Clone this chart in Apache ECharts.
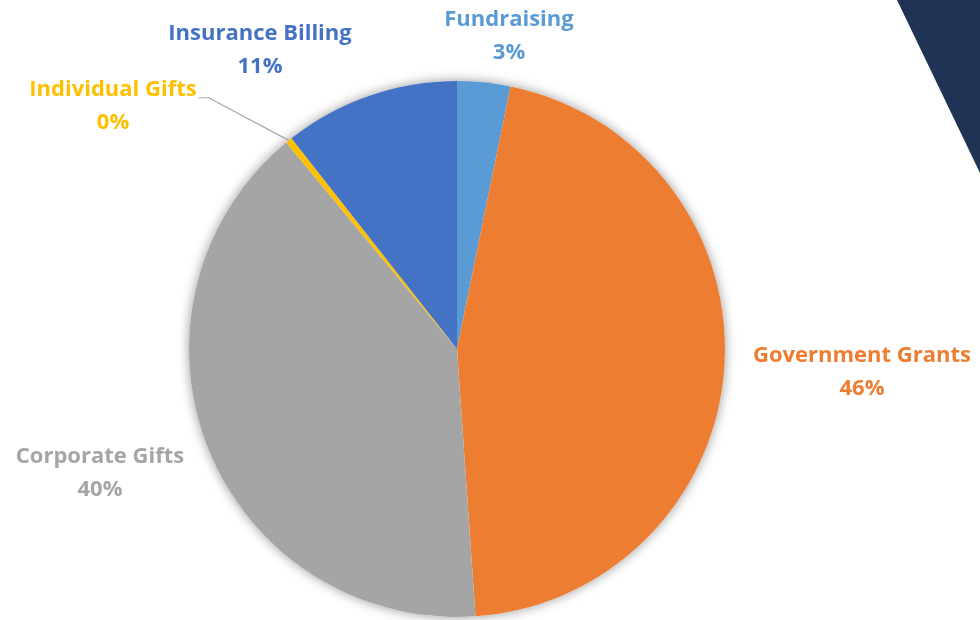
<!DOCTYPE html>
<html><head><meta charset="utf-8">
<script src="https://cdn.jsdelivr.net/npm/echarts@6/dist/echarts.min.js"></script>
<style>html,body{margin:0;padding:0;background:#fff}#c{width:980px;height:620px}</style>
</head><body><div id="c"></div>
<script>
const categories = ['Fundraising', 'Government Grants', 'Corporate Gifts', 'Individual Gifts', 'Insurance Billing'];
const values = [3.2, 45.7, 40.1, 0.4, 10.6];

const chart = echarts.init(document.getElementById('c'));
const sliceColors = ['#5B9BD5', '#ED7D31', '#A5A5A5', '#FFC000', '#4472C4'];
const labelCenters = [[509, 36], [862, 372], [100, 473], [113, 106], [260, 50]];
const LH = 33;

chart.setOption({
  backgroundColor: '#fff',
  animation: false,
  graphic: [{
    type: 'polygon',
    shape: { points: [[897, 0], [980, 0], [980, 173]] },
    style: { fill: '#1f3354' },
    z: 100
  }],
  series: [
    {
      type: 'pie', center: [457, 349], radius: 268, silent: true,
      label: { show: false }, labelLine: { show: false }, z: 1,
      data: [{ value: 1, itemStyle: { color: '#fff', shadowBlur: 12, shadowColor: 'rgba(0,0,0,0.4)' } }]
    },
    {
      type: 'pie', center: [457, 349], radius: 268, startAngle: 90, clockwise: true,
      percentPrecision: 0, z: 2,
      label: {
        show: true, position: 'outside', formatter: '{b}\n{d}%', overflow: 'none',
        fontFamily: 'Open Sans', fontWeight: 'bold', fontSize: 22, lineHeight: LH,
        color: 'inherit'
      },
      labelLine: { show: false, lineStyle: { color: '#a6a6a6', width: 1.2 } },
      data: categories.map((n, i) => ({
        name: n, value: values[i],
        itemStyle: { color: sliceColors[i] },
        label: { color: sliceColors[i] },
        labelLine: { show: i === 3 }
      })),
      labelLayout: function (p) {
        const c = labelCenters[p.dataIndex];
        const out = { x: c[0], y: c[1], align: 'center', verticalAlign: 'middle' };
        if (p.dataIndex === 3 && p.labelLinePoints) {
          const w = p.labelRect.width, h = p.labelRect.height;
          const right = c[0] + w / 2 + 2;
          const ly = c[1] - h / 2 + LH * 0.75;
          const pts = p.labelLinePoints;
          out.labelLinePoints = [pts[0], [right + 10, ly], [right, ly]];
        }
        return out;
      }
    }
  ]
});
</script></body></html>
